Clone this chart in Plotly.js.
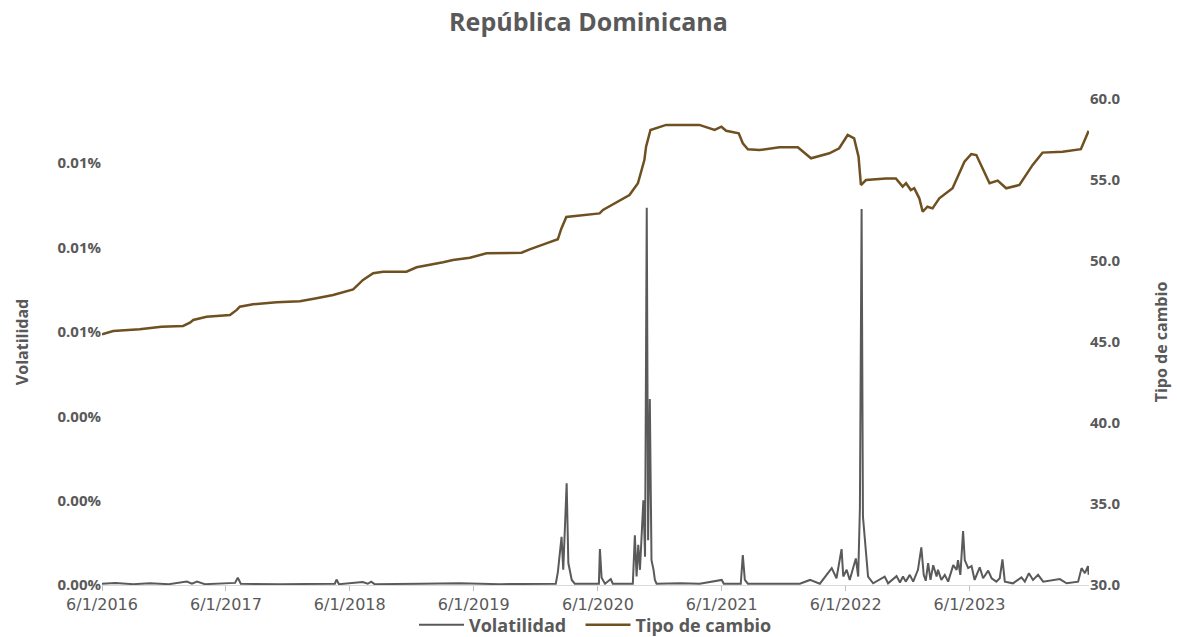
<!DOCTYPE html>
<html>
<head>
<meta charset="utf-8">
<script src="https://cdn.plot.ly/plotly-3.0.1.min.js"></script>
<style>
html,body{margin:0;padding:0;background:#fff;}
#chart{width:1177px;height:637px;}
</style>
</head>
<body>
<div id="chart"></div>
<script>
// Tipo de cambio (DOP por USD)
const fxDates = [
'2016-06-01','2016-07-04','2016-09-20','2016-11-23','2017-01-26','2017-02-15','2017-02-25','2017-04-05',
'2017-06-13','2017-07-03','2017-07-12','2017-08-20','2017-10-28','2018-01-05','2018-02-23','2018-04-13',
'2018-06-11','2018-07-10','2018-08-09','2018-09-07','2018-11-15','2018-12-15','2019-03-03','2019-04-01',
'2019-05-21','2019-07-09','2019-10-20','2019-11-13','2020-01-01','2020-02-04','2020-02-14','2020-02-29',
'2020-06-06','2020-06-16','2020-09-02','2020-09-27','2020-10-16','2020-10-21','2020-11-03','2020-12-19',
'2021-03-27','2021-05-11','2021-05-31','2021-06-14','2021-07-21','2021-08-02','2021-08-17','2021-09-20',
'2021-11-18','2022-01-11','2022-02-19','2022-04-14','2022-05-13','2022-06-07','2022-06-26','2022-07-09',
'2022-07-16','2022-07-31','2022-09-28','2022-10-27','2022-11-16','2022-11-26','2022-12-10','2022-12-20',
'2023-01-04','2023-01-14','2023-01-28','2023-02-12','2023-03-04','2023-04-12','2023-05-17','2023-06-06',
'2023-06-21','2023-07-30','2023-08-23','2023-09-17','2023-10-26','2023-12-04','2024-01-02','2024-03-01',
'2024-04-24','2024-05-17'
];
const fxValues = [
45.48,45.68,45.78,45.94,45.99,46.19,46.36,46.56,
46.67,46.98,47.18,47.33,47.45,47.51,47.70,47.90,
48.25,48.83,49.24,49.34,49.34,49.61,49.92,50.06,
50.20,50.48,50.51,50.72,51.09,51.34,51.98,52.72,
52.94,53.15,54.07,54.80,56.23,57.06,58.09,58.40,
58.40,58.09,58.29,58.04,57.88,57.27,56.90,56.85,
57.02,57.02,56.34,56.65,56.96,57.78,57.57,56.44,
54.69,55.00,55.10,55.10,54.59,54.80,54.38,54.49,
53.87,53.04,53.35,53.25,53.87,54.49,56.13,56.60,
56.54,54.80,54.96,54.49,54.69,55.93,56.69,56.75,
56.90,58.04
];

// Volatilidad (en %)
const volDates = [
'2016-06-01','2016-07-10','2016-09-01','2016-10-20','2016-12-15','2017-02-06','2017-02-21','2017-03-08',
'2017-03-31','2017-05-29','2017-06-28','2017-07-06','2017-07-15','2017-11-07','2018-02-04','2018-04-18',
'2018-04-23','2018-04-30','2018-07-09','2018-07-24','2018-08-03','2018-08-13','2018-12-25','2019-04-21',
'2019-08-17','2019-12-13','2020-01-29','2020-02-04','2020-02-15','2020-02-20','2020-03-01','2020-03-06',
'2020-03-16','2020-03-25','2020-05-08','2020-06-04','2020-06-07','2020-06-12','2020-06-22','2020-07-09',
'2020-07-15','2020-09-12','2020-09-18','2020-09-23','2020-09-28','2020-10-03','2020-10-13','2020-10-18',
'2020-10-23','2020-10-27','2020-11-01','2020-11-06','2020-11-12','2020-11-16','2020-11-21','2021-01-29',
'2021-03-28','2021-06-01','2021-06-07','2021-07-27','2021-08-02','2021-08-08','2021-08-17','2021-11-19',
'2022-01-17','2022-02-16','2022-03-17','2022-04-21','2022-05-05','2022-05-20','2022-05-25','2022-06-04',
'2022-06-13','2022-07-01','2022-07-08','2022-07-13','2022-07-18','2022-07-22','2022-07-30','2022-08-06',
'2022-08-21','2022-09-24','2022-10-04','2022-10-29','2022-11-08','2022-11-17','2022-11-25','2022-12-07',
'2022-12-17','2022-12-31','2023-01-10','2023-01-17','2023-01-23','2023-01-30','2023-02-06','2023-02-14',
'2023-02-24','2023-02-28','2023-03-10','2023-03-20','2023-03-30','2023-04-14','2023-04-24','2023-04-28',
'2023-05-05','2023-05-13','2023-05-18','2023-05-28','2023-06-07','2023-06-16','2023-07-01','2023-07-11',
'2023-07-26','2023-08-05','2023-08-19','2023-08-29','2023-09-06','2023-09-13','2023-10-07','2023-11-01',
'2023-11-11','2023-11-23','2023-12-05','2023-12-20','2024-01-04','2024-02-02','2024-02-22','2024-03-13',
'2024-04-16','2024-04-26','2024-05-06','2024-05-15','2024-05-17'
];
const volValues = [
0.00003,0.00005,0.00002,0.00004,0.00002,0.00008,0.00003,0.00008,
0.00002,0.00003,0.00005,0.00017,0.00003,0.00002,0.00003,0.00003,
0.00013,0.00002,0.00007,0.00003,0.00008,0.00002,0.00003,0.00004,
0.00002,0.00003,0.00003,0.00030,0.00114,0.00036,0.00241,0.00052,
0.00012,0.00003,0.00002,0.00003,0.00085,0.00017,0.00003,0.00014,
0.00003,0.00003,0.00118,0.00020,0.00095,0.00036,0.00201,0.00067,
0.00894,0.00106,0.00441,0.00059,0.00036,0.00012,0.00003,0.00004,
0.00003,0.00012,0.00003,0.00003,0.00071,0.00012,0.00003,0.00004,
0.00003,0.00012,0.00003,0.00040,0.00016,0.00085,0.00020,0.00036,
0.00012,0.00063,0.00020,0.00182,0.00891,0.00162,0.00079,0.00020,
0.00004,0.00020,0.00004,0.00021,0.00006,0.00020,0.00008,0.00024,
0.00008,0.00036,0.00089,0.00024,0.00010,0.00052,0.00012,0.00047,
0.00020,0.00036,0.00012,0.00024,0.00008,0.00047,0.00036,0.00059,
0.00024,0.00128,0.00059,0.00040,0.00045,0.00012,0.00042,0.00016,
0.00034,0.00016,0.00008,0.00016,0.00061,0.00008,0.00004,0.00018,
0.00008,0.00028,0.00012,0.00024,0.00008,0.00012,0.00014,0.00004,
0.00008,0.00040,0.00028,0.00045,0.00024
];

const chartTitle = 'República Dominicana';
const leftTitle = 'Volatilidad';
const rightTitle = 'Tipo de cambio';
const seriesNames = ['Volatilidad', 'Tipo de cambio'];

const grey = '#595959';
const boldFont = 'Open Sans, Liberation Sans, sans-serif';

const traces = [
  {
    x: volDates, y: volValues, name: seriesNames[0] + '\u00a0\u00a0', type: 'scatter', mode: 'lines',
    line: {color: '#5a5a5a', width: 2}, yaxis: 'y'
  },
  {
    x: fxDates, y: fxValues, name: seriesNames[1], type: 'scatter', mode: 'lines',
    line: {color: '#6e5021', width: 2.5}, yaxis: 'y2'
  }
];

const layout = {
  width: 1177, height: 637,
  paper_bgcolor: '#ffffff', plot_bgcolor: '#ffffff',
  margin: {l: 102, r: 88, t: 99, b: 52, autoexpand: false},
  title: {
    text: chartTitle,
    font: {family: boldFont, size: 25, color: grey, weight: 'bold'},
    x: 0.5, xref: 'container', xanchor: 'center',
    y: 1 - 22 / 637, yref: 'container', yanchor: 'middle'
  },
  showlegend: true,
  legend: {
    orientation: 'h', x: 0.5, xanchor: 'center', xref: 'paper',
    y: 1 - 625 / 637, yanchor: 'middle', yref: 'container',
    font: {family: boldFont, size: 18, color: grey, weight: 'bold'},
    itemwidth: 45, bgcolor: 'rgba(0,0,0,0)'
  },
  xaxis: {
    type: 'date',
    range: ['2016-06-01', '2024-05-18'],
    tick0: '2016-06-01', dtick: 'M12', tickformat: '%-m/%-d/%Y',
    showgrid: false, zeroline: false,
    showline: true, linecolor: '#d9d9d9', linewidth: 1,
    ticks: 'outside', ticklen: 5, tickcolor: '#bfbfbf',
    tickfont: {family: 'DejaVu Sans, Verdana, sans-serif', size: 16, color: grey},
    automargin: false
  },
  yaxis: {
    range: [0, 0.01152], dtick: 0.002, tick0: 0,
    tickformat: '.2f', ticksuffix: '%',
    showgrid: false, zeroline: false, showline: false, ticks: '',
    tickfont: {family: boldFont, size: 15, color: grey, weight: 'bold'},
    title: {text: leftTitle, font: {family: boldFont, size: 16, color: grey, weight: 'bold'}, standoff: 24},
    automargin: false
  },
  yaxis2: {
    overlaying: 'y', side: 'right',
    range: [30, 60], dtick: 5, tick0: 30, tickformat: '.1f',
    showgrid: false, zeroline: false, showline: false, ticks: '',
    tickfont: {family: boldFont, size: 15, color: grey, weight: 'bold'},
    title: {text: rightTitle, font: {family: boldFont, size: 16, color: grey, weight: 'bold'}, standoff: 36},
    automargin: false
  }
};

Plotly.newPlot('chart', traces, layout, {displayModeBar: false, staticPlot: true});
</script>
</body>
</html>
